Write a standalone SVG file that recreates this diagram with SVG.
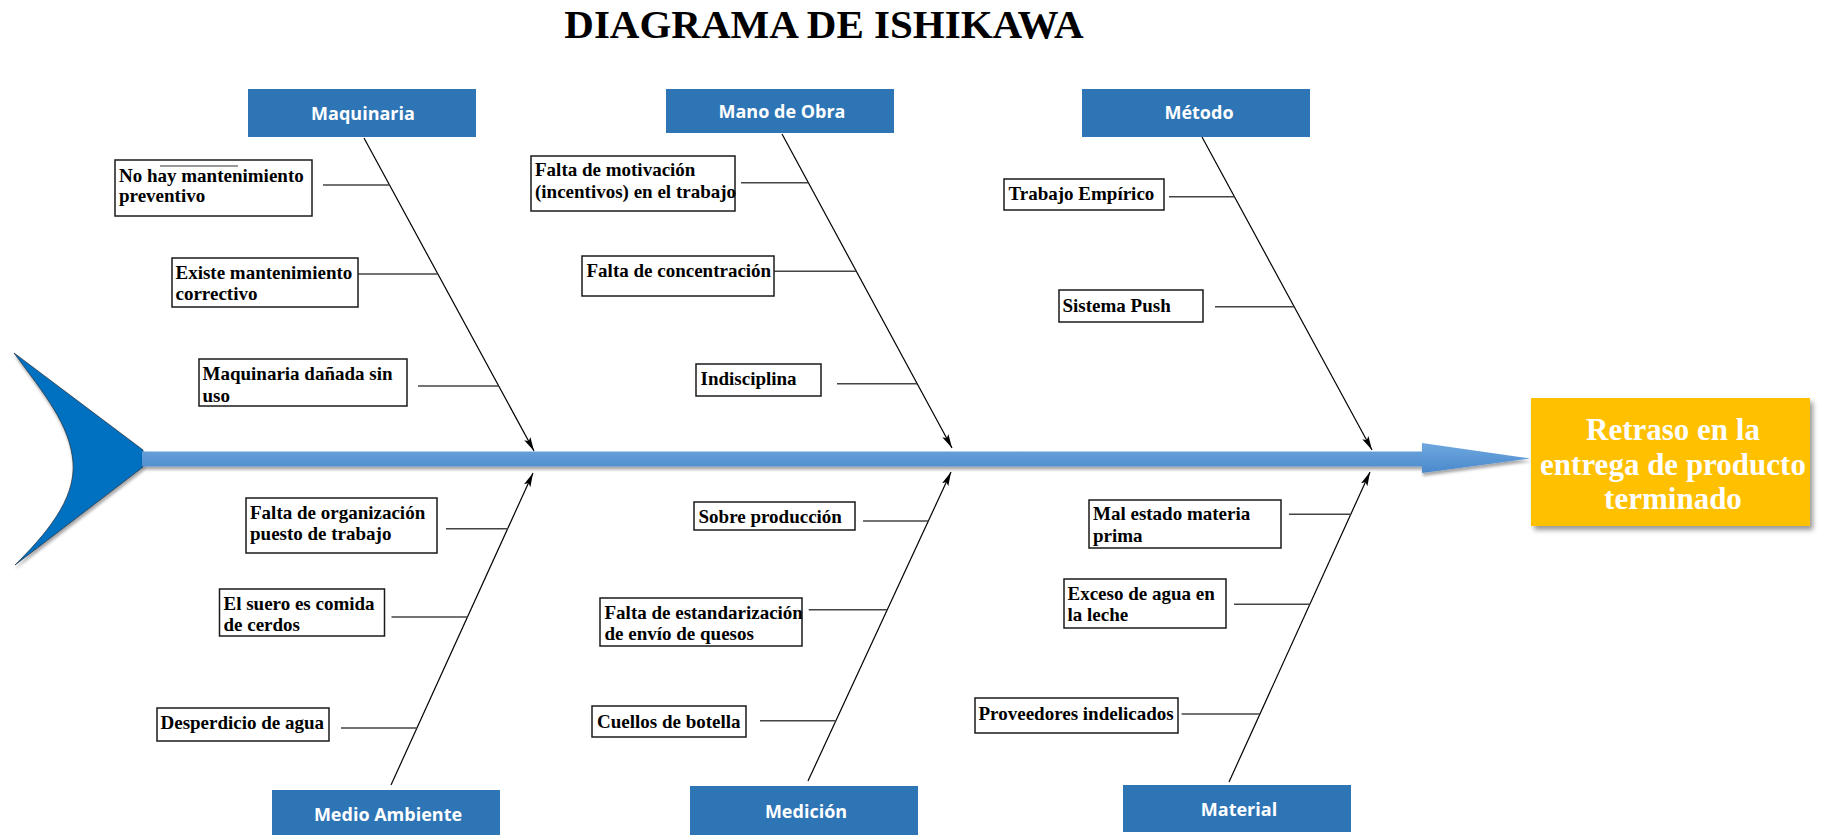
<svg xmlns="http://www.w3.org/2000/svg" width="1828" height="835" viewBox="0 0 1828 835">
  <style>
    .title { font-family: "Liberation Serif", "Times New Roman", serif; font-weight: bold; font-size: 41px; fill: #000; }
    .cause rect { fill: #fff; stroke: #1a1a1a; stroke-width: 1.5; }
    .cause text { font-family: "Liberation Serif", "Times New Roman", serif; font-weight: bold; font-size: 19px; fill: #000; }
    .cat rect { fill: #2E75B6; }
    .cat text { font-family: "Open Sans", "Liberation Sans", sans-serif; font-weight: bold; font-size: 18px; fill: #fff; text-anchor: middle; }
    .bone { stroke: #000; stroke-width: 1.2; fill: none; marker-end: url(#tip); }
    .twig { stroke: #444; stroke-width: 1.5; fill: none; }
    .effect text { font-family: "Liberation Serif", "Times New Roman", serif; font-weight: bold; font-size: 31px; fill: #fff; text-anchor: middle; }
  </style>
  <defs>
    <marker id="tip" viewBox="0 0 14 8" refX="14" refY="4" markerWidth="14" markerHeight="8" markerUnits="userSpaceOnUse" orient="auto">
      <path d="M0,0.5 L14,4 L0,7.5 L3,4 Z" fill="#000"/>
    </marker>
    <linearGradient id="spineFill" x1="0" y1="0" x2="0" y2="1">
      <stop offset="0" stop-color="#6FA8DF"/>
      <stop offset="1" stop-color="#4A89CB"/>
    </linearGradient>
    <filter id="shade" x="-5%" y="-50%" width="110%" height="250%">
      <feDropShadow dx="1" dy="3" stdDeviation="1.8" flood-color="#000" flood-opacity="0.35"/>
    </filter>
    <filter id="boxShade" x="-10%" y="-10%" width="125%" height="130%">
      <feDropShadow dx="3" dy="4" stdDeviation="2.5" flood-color="#000" flood-opacity="0.4"/>
    </filter>
  </defs>

  <rect width="1828" height="835" fill="#fff"/>

  <text class="title" x="824" y="37.5" text-anchor="middle">DIAGRAMA DE ISHIKAWA</text>

  <!-- fish tail -->
  <g id="tail">
    <path d="M14,353 L143,450 L143,467 L15,565 C45,535 76,500 73,462 C70,425 45,395 14,353 Z" fill="#0070C0" stroke="#2b3a4a" stroke-width="0.8" filter="url(#shade)"/>
  </g>

  <!-- spine with head arrow -->
  <g id="spine" filter="url(#shade)">
    <path d="M142,451.5 L1422,451.5 L1422,443 L1530,458.5 L1422,473 L1422,466.5 L142,466.5 Z" fill="url(#spineFill)"/>
  </g>

  <!-- effect -->
  <g id="effect" class="effect">
    <rect x="1531" y="398" width="279" height="128" fill="#FFC000" filter="url(#boxShade)"/>
    <text x="1673" y="440">Retraso en la</text>
    <text x="1673" y="474.5">entrega de producto</text>
    <text x="1673" y="509">terminado</text>
  </g>

  <!-- connectors: main bones and twigs -->
  <g id="connectors">
    <line class="bone" x1="364" y1="138" x2="534" y2="451"/>
    <line class="bone" x1="782" y1="134" x2="952" y2="448"/>
    <line class="bone" x1="1202" y1="137" x2="1372" y2="450"/>
    <line class="bone" x1="391" y1="785" x2="533" y2="473"/>
    <line class="bone" x1="808" y1="781" x2="951" y2="472"/>
    <line class="bone" x1="1229" y1="782" x2="1370" y2="472"/>

    <line class="twig" x1="323" y1="185" x2="389.5" y2="185"/>
    <line class="twig" x1="358" y1="274" x2="438" y2="274"/>
    <line class="twig" x1="418" y1="386" x2="498.7" y2="386"/>
    <line class="twig" x1="741" y1="182.7" x2="808.4" y2="182.7"/>
    <line class="twig" x1="774" y1="271.3" x2="856.3" y2="271.3"/>
    <line class="twig" x1="837" y1="383.7" x2="917.2" y2="383.7"/>
    <line class="twig" x1="1169" y1="196.7" x2="1234.4" y2="196.7"/>
    <line class="twig" x1="1215" y1="306.7" x2="1294.2" y2="306.7"/>
    <line class="twig" x1="446" y1="528.7" x2="508" y2="528.7"/>
    <line class="twig" x1="391.5" y1="617" x2="467.5" y2="617"/>
    <line class="twig" x1="341" y1="728" x2="417" y2="728"/>
    <line class="twig" x1="863" y1="521" x2="928.3" y2="521"/>
    <line class="twig" x1="808.7" y1="609.7" x2="887.3" y2="609.7"/>
    <line class="twig" x1="760" y1="720.7" x2="835.9" y2="720.7"/>
    <line class="twig" x1="1289" y1="514.3" x2="1350.8" y2="514.3"/>
    <line class="twig" x1="1234" y1="604.3" x2="1309.8" y2="604.3"/>
    <line class="twig" x1="1181.6" y1="714" x2="1259.9" y2="714"/>
  </g>

  <!-- categories -->
  <g id="cat-maquinaria" class="cat"><rect x="248" y="89" width="228" height="48"/><text x="363" y="119.5">Maquinaria</text></g>
  <g id="cat-mano-obra" class="cat"><rect x="666" y="89" width="228" height="44"/><text x="782" y="117.5">Mano de Obra</text></g>
  <g id="cat-metodo" class="cat"><rect x="1082" y="89" width="228" height="48"/><text x="1199" y="119">Método</text></g>
  <g id="cat-medio-ambiente" class="cat"><rect x="272" y="790" width="228" height="45"/><text x="388" y="820.5">Medio Ambiente</text></g>
  <g id="cat-medicion" class="cat"><rect x="690" y="786" width="228" height="49"/><text x="806" y="818">Medición</text></g>
  <g id="cat-material" class="cat"><rect x="1123" y="785" width="228" height="47"/><text x="1239" y="816">Material</text></g>

  <!-- causes -->
  <g id="c-no-mantenimiento" class="cause">
    <rect x="115" y="160" width="197" height="56"/>
    <line x1="160" y1="166" x2="238" y2="166" stroke="#333" stroke-width="1"/>
    <text x="119" y="182">No hay mantenimiento</text>
    <text x="119" y="202">preventivo</text>
  </g>
  <g id="c-correctivo" class="cause">
    <rect x="172" y="258" width="186" height="49"/>
    <text x="175.5" y="278.5">Existe mantenimiento</text>
    <text x="175.5" y="300">correctivo</text>
  </g>
  <g id="c-danada" class="cause">
    <rect x="199" y="359" width="208" height="47"/>
    <text x="202.5" y="380">Maquinaria dañada sin</text>
    <text x="202.5" y="402">uso</text>
  </g>
  <g id="c-motivacion" class="cause">
    <rect x="531" y="156" width="204" height="55"/>
    <text x="535" y="176">Falta de motivación</text>
    <text x="535" y="198">(incentivos) en el trabajo</text>
  </g>
  <g id="c-concentracion" class="cause">
    <rect x="582" y="256" width="192" height="40"/>
    <text x="586.5" y="277">Falta de concentración</text>
  </g>
  <g id="c-indisciplina" class="cause">
    <rect x="696" y="364" width="125" height="32"/>
    <text x="700.5" y="385">Indisciplina</text>
  </g>
  <g id="c-empirico" class="cause">
    <rect x="1004" y="179" width="160" height="31"/>
    <text x="1008.5" y="199.5">Trabajo Empírico</text>
  </g>
  <g id="c-push" class="cause">
    <rect x="1059" y="290" width="144" height="32"/>
    <text x="1062.5" y="312">Sistema Push</text>
  </g>
  <g id="c-organizacion" class="cause">
    <rect x="246" y="498" width="191" height="55"/>
    <text x="250" y="519">Falta de organización</text>
    <text x="250" y="540">puesto de trabajo</text>
  </g>
  <g id="c-suero" class="cause">
    <rect x="219.5" y="589" width="165" height="47"/>
    <text x="223.5" y="610">El suero es comida</text>
    <text x="223.5" y="631">de cerdos</text>
  </g>
  <g id="c-agua" class="cause">
    <rect x="157" y="708" width="172" height="33"/>
    <text x="160.5" y="728.5">Desperdicio de agua</text>
  </g>
  <g id="c-sobreproduccion" class="cause">
    <rect x="694" y="502" width="161" height="28"/>
    <text x="698.5" y="522.5">Sobre producción</text>
  </g>
  <g id="c-estandarizacion" class="cause">
    <rect x="600" y="598" width="202" height="48"/>
    <text x="604.5" y="618.5">Falta de estandarización</text>
    <text x="604.5" y="640">de envío de quesos</text>
  </g>
  <g id="c-cuellos" class="cause">
    <rect x="592" y="706" width="154" height="31"/>
    <text x="597" y="727.5">Cuellos de botella</text>
  </g>
  <g id="c-materia-prima" class="cause">
    <rect x="1089" y="500" width="192" height="48"/>
    <text x="1093" y="520">Mal estado materia</text>
    <text x="1093" y="541.5">prima</text>
  </g>
  <g id="c-exceso-agua" class="cause">
    <rect x="1064" y="579" width="162" height="49"/>
    <text x="1067.5" y="600">Exceso de agua en</text>
    <text x="1067.5" y="621">la leche</text>
  </g>
  <g id="c-proveedores" class="cause">
    <rect x="975" y="698" width="203" height="35"/>
    <text x="978.5" y="720">Proveedores indelicados</text>
  </g>
</svg>
